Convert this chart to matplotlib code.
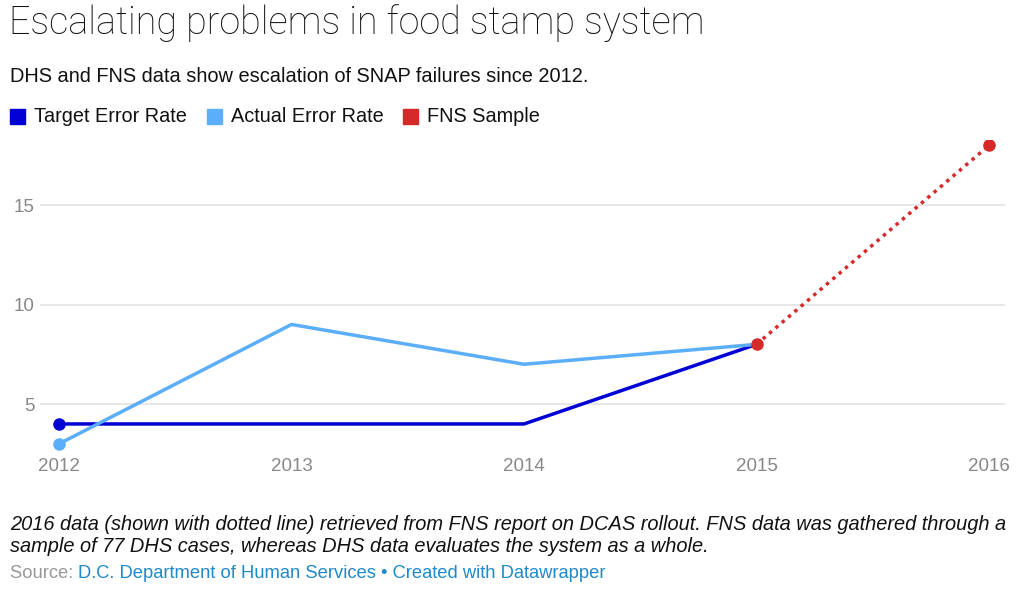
import matplotlib
matplotlib.use('Agg')
import matplotlib.pyplot as plt

years = [2012, 2013, 2014, 2015, 2016]
target = [4, 4, 4, 8]
actual = [3, 9, 7, 8]
fns_years = [2015, 2016]
fns = [8, 18]

c_target = '#0000d4'
c_actual = '#5aaefa'
c_fns = '#d62a2a'

plt.rcParams['font.family'] = ['Liberation Sans', 'DejaVu Sans']

fig = plt.figure(figsize=(10.24, 5.91), dpi=100)
ax = fig.add_axes([40/1024, 1-455/591, 965/1024, 315/591])

ax.plot(years[:4], target, color=c_target, lw=2.5, zorder=3, solid_capstyle='round')
ax.plot(years[:4], actual, color=c_actual, lw=2.5, zorder=3, solid_capstyle='round')
ax.plot(fns_years, fns, color=c_fns, lw=2.5, ls=(0, (1, 1.4)), zorder=4)
ax.plot([years[0]], [target[0]], 'o', color=c_target, ms=8, zorder=5)
ax.plot([years[0]], [actual[0]], 'o', color=c_actual, ms=8, zorder=5)
ax.plot(fns_years, fns, 'o', color=c_fns, ms=8, zorder=6, ls='none')

ax.set_xlim(2012 - 19/232.5, 2016 + 16/232.5)
ax.set_ylim(2.44, 18.27)
ax.set_xticks(years)
ax.set_xticklabels([str(y) for y in years])
ax.set_yticks([5, 10, 15])
ax.grid(axis='y', color='#e3e3e3', lw=1.2, zorder=0)
for s in ax.spines.values():
    s.set_visible(False)
ax.tick_params(length=0, colors='#888888', labelsize=13.5)
ax.tick_params(axis='x', pad=2)
ax.tick_params(axis='y', pad=4)

fig.text(9/1024, 1-23/591, 'Escalating problems in food stamp system', fontsize=27.2,
         family=['Roboto', 'Liberation Sans'], fontweight='light', va='center', color='#111111')
fig.text(10/1024, 1-76/591, 'DHS and FNS data show escalation of SNAP failures since 2012.',
         fontsize=14.4, va='center', color='#111111')

# legend
items = [('Target Error Rate', c_target, 10), ('Actual Error Rate', c_actual, 207), ('FNS Sample', c_fns, 403)]
for label, col, x0 in items:
    fig.patches.append(plt.Rectangle((x0/1024, 1-124/591), 15/1024, 15/591, color=col,
                                     transform=fig.transFigure, figure=fig))
    fig.text((x0+24)/1024, 1-117/591, label, fontsize=14.3, va='center', color='#111111')

fig.text(10/1024, 1-524/591, '2016 data (shown with dotted line) retrieved from FNS report on DCAS rollout. '
         'FNS data was gathered through a', fontsize=14.4, style='italic', va='center', color='#111111')
fig.text(10/1024, 1-546/591, 'sample of 77 DHS cases, whereas DHS data evaluates the system as a whole.',
         fontsize=14.4, style='italic', va='center', color='#111111')
t = fig.text(10/1024, 1-573/591, 'Source: ', fontsize=13.2, va='center', color='#999999')
fig.canvas.draw()
bb = t.get_window_extent()
fig.text(bb.x1/1024, 1-573/591, 'D.C. Department of Human Services \u2022 Created with Datawrapper',
         fontsize=13.2, va='center', color='#1d8acb')

fig.savefig('out.png', dpi=100)
